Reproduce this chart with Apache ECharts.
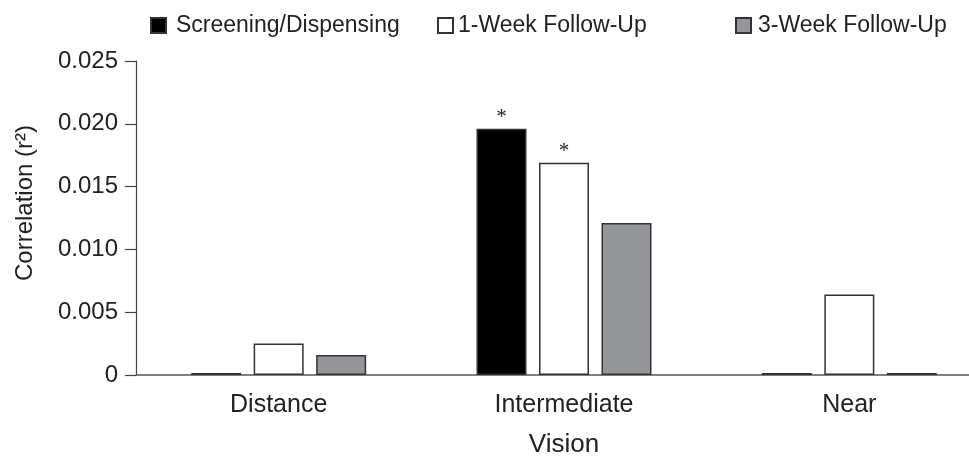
<!DOCTYPE html>
<html><head><meta charset="utf-8">
<script src="https://cdn.jsdelivr.net/npm/echarts@6/dist/echarts.min.js"></script>
<style>html,body{margin:0;padding:0;background:#fff}#c{width:969px;height:460px}</style>
</head><body><div id="c"></div>
<script>
var categories = ['Distance', 'Intermediate', 'Near'];
var screening = [0.00015, 0.0196, 0.00015];
var week1 = [0.0025, 0.0169, 0.0064];
var week3 = [0.0016, 0.0121, 0.00015];
var screeningMarks = ['', '*', ''];
var week1Marks = ['', '*', ''];
var seriesNames = ['Screening/Dispensing', '1-Week Follow-Up', '3-Week Follow-Up'];

var FONT = '"Liberation Sans", Arial, Helvetica, sans-serif';
var chart = echarts.init(document.getElementById('c'), null, {renderer: 'canvas'});

function withMarks(vals, marks) {
  return vals.map(function (v, i) {
    var d = {value: v};
    if (marks[i]) {
      d.label = {show: true, position: 'top', distance: 1, formatter: marks[i],
        fontFamily: '"Liberation Serif", "Times New Roman", serif', fontSize: 21, color: '#222'};
    }
    return d;
  });
}

function legendAt(left, name, padLeft) {
  return {
    left: left, top: 14, padding: 0, itemWidth: 15, itemHeight: 15, itemGap: 0,
    data: [{name: name, icon: 'rect'}],
    textStyle: {fontFamily: FONT, fontSize: 23, color: '#222', padding: [0, 0, 0, padLeft]},
    selectedMode: false
  };
}

var option = {
  animation: false,
  backgroundColor: '#fff',
  legend: [legendAt(150, seriesNames[0], 5), legendAt(437, seriesNames[1], 0), legendAt(735, seriesNames[2], 2)],
  grid: {left: 136, width: 856, top: 61, bottom: 85, containLabel: false, outerBoundsMode: 'none'},
  xAxis: {
    type: 'category', data: categories,
    name: 'Vision', nameLocation: 'middle', nameGap: 57,
    nameTextStyle: {fontFamily: FONT, fontSize: 26, color: '#222'},
    axisLine: {lineStyle: {color: '#555', width: 1.5}},
    axisTick: {show: false},
    axisLabel: {fontFamily: FONT, fontSize: 25, color: '#222', margin: 18}
  },
  yAxis: {
    type: 'value', min: 0, max: 0.025, interval: 0.005,
    name: 'Correlation (r\u00B2)', nameLocation: 'middle', nameGap: 99, nameRotate: 90,
    nameTextStyle: {fontFamily: FONT, fontSize: 24, color: '#222', padding: [0, 0, 0, 30]},
    axisLine: {show: true, lineStyle: {color: '#444', width: 1.2}},
    axisTick: {show: true, length: 11, lineStyle: {color: '#444', width: 1.2}},
    splitLine: {show: false},
    axisLabel: {fontFamily: FONT, fontSize: 24, color: '#222', margin: 18,
      formatter: function (v) { return v === 0 ? '0' : v.toFixed(3); }}
  },
  series: [
    {name: seriesNames[0], type: 'bar', barWidth: 50, barGap: '25%',
     data: withMarks(screening, screeningMarks),
     itemStyle: {color: '#000', borderColor: '#333', borderWidth: 1.5}},
    {name: seriesNames[1], type: 'bar', barWidth: 50, barGap: '25%',
     data: withMarks(week1, week1Marks),
     itemStyle: {color: '#fff', borderColor: '#333', borderWidth: 1.5}},
    {name: seriesNames[2], type: 'bar', barWidth: 50, barGap: '25%',
     data: week3,
     itemStyle: {color: '#939598', borderColor: '#333', borderWidth: 1.5}}
  ]
};
chart.setOption(option);
</script>
</body></html>
